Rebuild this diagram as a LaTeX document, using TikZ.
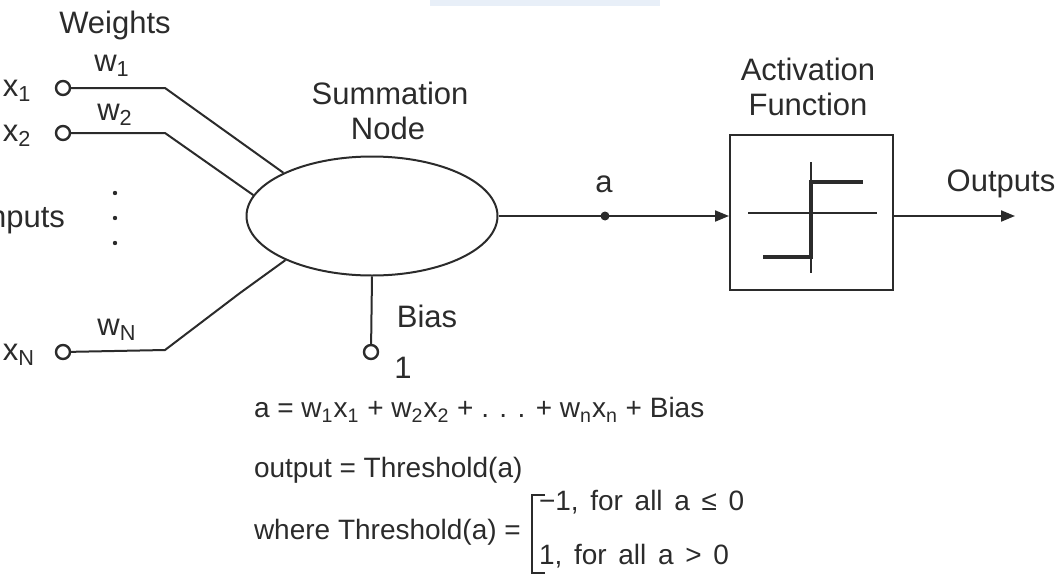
\documentclass[tikz,border=0pt]{standalone}
\usepackage{fontspec}
\setmainfont{Liberation Sans}
\newfontfamily\widefont[WordSpace=1.5]{Liberation Sans}
\usetikzlibrary{arrows.meta,shapes.geometric}
\definecolor{ink}{HTML}{2B2B2B}
\definecolor{band}{HTML}{E8EFF8}
\begin{document}
\begin{tikzpicture}[x=0.5pt,y=-0.5pt,line width=1pt,color=ink,
  lbl/.style={inner sep=0pt,font=\fontsize{15.5}{18}\selectfont},
  eqt/.style={inner sep=0pt,anchor=west,font=\fontsize{14}{16}\selectfont},
  wide/.style={font=\widefont\fontsize{14}{16}\selectfont},
  port/.style={circle,draw,line width=1.2pt,minimum size=7pt,inner sep=0pt},
  wire/.style={line width=1pt},
  arr/.style={line width=1pt,-{Triangle[length=7pt,width=5.5pt]}},
  stepln/.style={line width=1.6pt}]
\clip (0,0) rectangle (1059,578);
\fill[band] (430,0) rectangle (660,6);
% labels
\node[lbl] (weights) at (115,25) {Weights};
\node[lbl,anchor=west] (lx1) at (2,91) {x\textsubscript{1}};
\node[lbl,anchor=west] (lx2) at (2,136) {x\textsubscript{2}};
\node[lbl,anchor=west] (lxn) at (2,355) {x\textsubscript{N}};
\node[lbl,anchor=east] (inputs) at (66,220) {Inputs};
\node[lbl] (w1) at (112,66) {w\textsubscript{1}};
\node[lbl] (w2) at (115,115) {w\textsubscript{2}};
\node[lbl] (wn) at (117,330) {w\textsubscript{N}};
\foreach \y/\n in {193/d1,218/d2,243/d3}
  \node[circle,fill,inner sep=0pt,minimum size=2.2pt] (\n) at (115,\y) {};
% input ports
\node[port] (c1) at (63,88) {};
\node[port] (c2) at (63,133) {};
\node[port] (cn) at (63,352) {};
\coordinate (k1) at (165,88);
\coordinate (k2) at (165,133);
\coordinate (kn) at (165,350);
\coordinate (kn2) at (240,293);
% summation node
\node[ellipse,draw,line width=1pt,minimum width=125.5pt,minimum height=59.5pt,inner sep=0pt] (sum) at (372,216) {};
\node[lbl] (summ) at (390,93) {Summation};
\node[lbl] (nodelbl) at (388,128) {Node};
\draw[wire] (c1) -- (k1) -- (sum.154);
\draw[wire] (c2) -- (k2) -- (sum.170);
\draw[wire] (cn) -- (kn) -- (kn2) -- (sum.207);
% bias
\node[port] (cb) at (371,352) {};
\draw[wire] (sum.south) -- (cb);
\node[lbl] (bias) at (427,316) {Bias};
\node[lbl] (one) at (403,368) {1};
% activation
\node[draw,line width=1pt,minimum width=81.5pt,minimum height=77.5pt,inner sep=0pt] (act) at (811.5,212.5) {};
\node[lbl] (actl) at (808,69) {Activation};
\node[lbl] (funl) at (808,104) {Function};
\draw[arr] (sum.east) -- (sum.east -| act.west);
\node[circle,fill,inner sep=0pt,minimum size=4.5pt] (adot) at (605,216) {};
\node[lbl] (alab) at (604,184) {a};
\coordinate (outend) at (1015,216);
\draw[arr] (act.east |- sum.east) -- (outend);
\node[lbl] (outl) at (1001,184) {Outputs};
% step function
\draw[line width=0.9pt] (748,213) -- (877,213);
\draw[line width=0.9pt] (811,162) -- (811,273);
\draw[stepln] (763,257) -- (811,257) -- (811,182) -- (863,182);
% equations
\node[eqt] (eq1) at (253,410) {a = w\textsubscript{1}x\textsubscript{1} + w\textsubscript{2}x\textsubscript{2} + . . . + w\textsubscript{n}x\textsubscript{n} + Bias};
\node[eqt] (eq2) at (253,470) {output = Threshold(a)};
\node[eqt] (eq3) at (253,532) {where Threshold(a) =};
\draw[line width=1pt] (545,495) -- (532,495) -- (532,573) -- (545,573);
\node[eqt,wide] (r1) at (538,502) {−1, for all a ≤ 0};
\node[eqt,wide] (r2) at (538,556) {1, for all a > 0};
\end{tikzpicture}
\end{document}
